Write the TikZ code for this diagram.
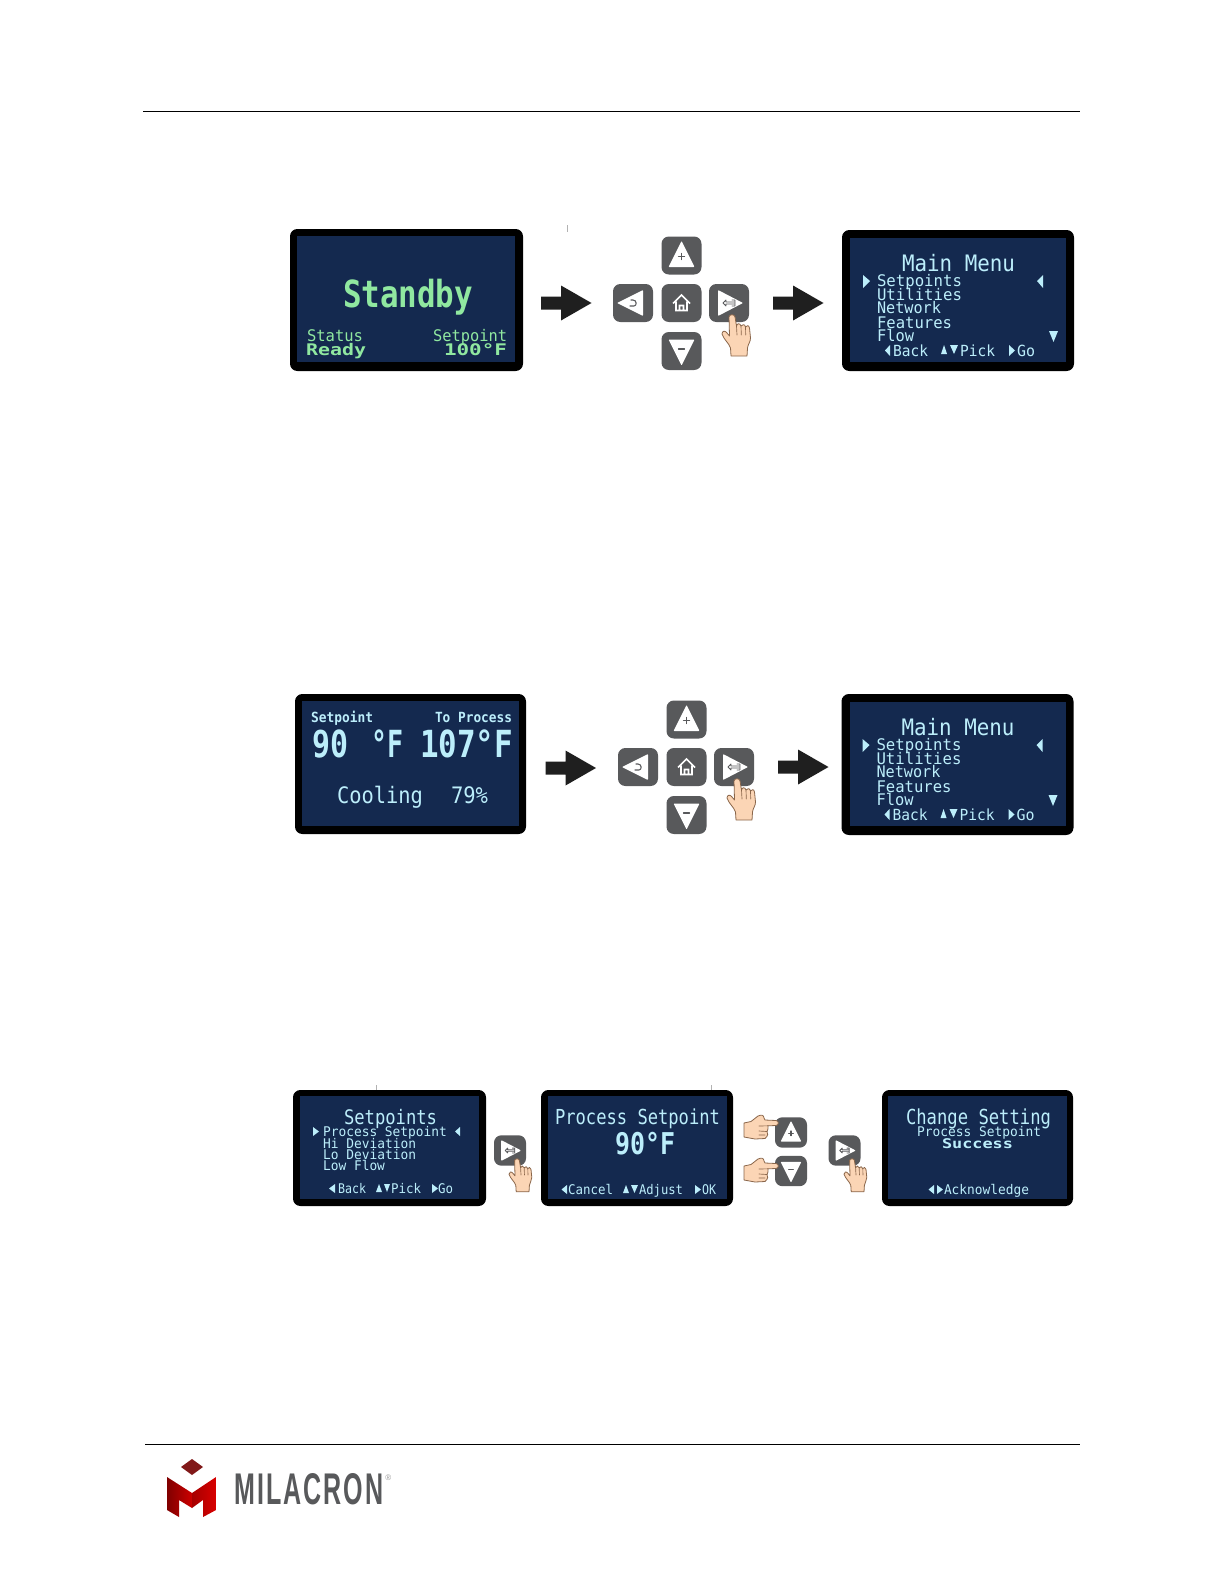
\documentclass[tikz,border=0pt]{standalone}
\usepackage{fontspec}
\usepackage{graphicx}
\setmainfont{Liberation Sans}
\newfontfamily\lcdfont{DejaVu Sans Mono}
\definecolor{lcdblue}{HTML}{BCEEFB}
\definecolor{lcdgreen}{HTML}{90E8A0}
\definecolor{navy}{HTML}{14294F}
\definecolor{keygray}{HTML}{58595B}
\definecolor{skin}{HTML}{FBD5B5}
\definecolor{skinline}{HTML}{8A664A}
\newlength\px \setlength\px{0.75pt}
\newcommand\lcdT[7][lcdblue]{\node[lcdtext,text=#1] (#2) at (#3,#4) {\fontsize{#6}{#6}\selectfont\resizebox{#5\px}{\height}{#7}};}
\newcommand\lcdS[6]{\fill[lcdblue] (#1,#2) -- (#3,#4) -- (#5,#6) -- cycle;}
\newcommand\panel[8]{\fill[black,rounded corners=5.5pt] (#1,#3) rectangle (#2,#4);\fill[navy] (#5,#7) rectangle (#6,#8);}
\newcommand\keyblock{\path[keybody] (-20,-19) rectangle (20,19);}
\tikzset{
 lcdtext/.style={inner sep=0pt,outer sep=0pt,anchor=base west,font=\lcdfont},
 keybody/.style={fill=keygray,rounded corners=5.5pt},
 keymark/.style={fill=white,rounded corners=0.6pt},
 keyicon/.style={draw=keygray,line width=0.8pt,line cap=round,line join=round},
 handshape/.style={fill=skin,draw=skinline,line width=0.6pt,line join=round},
 handcrease/.style={draw=skinline,line width=0.5pt,line cap=round},
 pics/keyup/.style={code={\keyblock\path[keymark] (0,-14.5) -- (13,11.5) -- (-13,11.5) -- cycle;
   \draw[keyicon] (-3,1) -- (3,1) (0,-2) -- (0,4);}},
 pics/keydown/.style={code={\keyblock\path[keymark] (-13,-11.5) -- (13,-11.5) -- (0,14.5) -- cycle;
   \draw[keyicon] (-3,-2) -- (3,-2);}},
 pics/keyleft/.style={code={\keyblock\path[keymark] (-16,0) -- (10,-13) -- (10,13) -- cycle;
   \draw[keyicon] (-3,3) -- (1,3) .. controls (4,3) and (4,-3) .. (0,-3) -- (-2,-3);}},
 pics/keyright/.style={code={\keyblock\path[keymark] (-11,-13) -- (14,0) -- (-11,13) -- cycle;
   \draw[keyicon,line width=0.6pt] (-6,0) -- (-3,-3) -- (-3,-1) -- (5,-1) (-6,0) -- (-3,3) -- (-3,1) -- (5,1) (3,-3) -- (6,-3) -- (6,3) -- (3,3);}},
 pics/keyhome/.style={code={\keyblock
   \draw[white,line width=1.3pt,line join=miter,line cap=butt] (-8.5,0.5) -- (0,-8) -- (8.5,0.5) (-5.5,-1.5) -- (-5.5,7.5) -- (5.5,7.5) -- (5.5,-1.5) (-2,7.5) -- (-2,2.5) -- (2,2.5) -- (2,7.5);}},
 pics/handup/.style={code={
   \path[handshape] (-3,2) .. controls (-3,-1) and (3,-1) .. (3,2) -- (4.5,11) .. controls (5,8) and (8,8) .. (9,11)
     .. controls (10,9) and (13,9) .. (13.5,12) .. controls (14.5,10) and (17,10) .. (17.5,13)
     -- (18.5,23) .. controls (18.5,27) and (16,29) .. (15.5,33) -- (15,41) -- (-1,41) -- (-1.5,33)
     .. controls (-3,28) and (-8,25) .. (-10,19) .. controls (-10,16) and (-7,15) .. (-5,18) -- (-2.5,21) -- cycle;
   \draw[handcrease] (4.5,11) -- (5,20) (9,11) -- (9.3,20) (13.5,12) -- (13.7,20);
 }},
 pics/handright/.style={code={
   \path[handshape] (-1,-2.5) .. controls (2,-2.5) and (2,2.5) .. (-1,2.5) -- (-9,2.8) .. controls (-9,6) and (-9,7) .. (-10,8.5)
     .. controls (-8.5,10) and (-9,13) .. (-12,15.5) -- (-22,16) -- (-33,14) -- (-33,0) -- (-26,-1.5) -- (-19,-7)
     .. controls (-16,-8.5) and (-13,-8) .. (-13,-5) -- (-12,-3) -- cycle;
   \draw[handcrease] (-9,2.8) -- (-18,3) (-10,8.5) -- (-18,8) (-12,12) -- (-18,12);
 }},
 pics/blockarrow/.style={code={
   \fill[black!88] (0,-6.5) -- (20,-6.5) -- (20,-17.5) -- (50.5,0) -- (20,17.5) -- (20,6.5) -- (0,6.5) -- cycle;}},
 pics/mainmenu/.style={code={
   \panel{842}{1074}{230}{371}{850}{1066}{238}{362}
   \lcdT{title}{902}{271}{113}{17}{Main Menu}
   \lcdT{a}{877}{286}{85}{12}{Setpoints}
   \lcdT{b}{877}{300}{85}{12}{Utilities}
   \lcdT{c}{877}{313}{64}{12}{Network}
   \lcdT{d}{877}{328}{75}{12}{Features}
   \lcdT{e}{877}{341}{37}{12}{Flow}
   \lcdT{f}{893}{356}{35}{11.5}{Back}
   \lcdT{g}{960}{356}{35}{11.5}{Pick}
   \lcdT{h}{1017}{356}{18}{11.5}{Go}
   \lcdS{863}{275}{870}{281}{863}{288}
   \lcdS{1043}{275}{1037}{281}{1043}{288}
   \lcdS{1049}{331}{1058}{331}{1053.5}{342}
   \lcdS{890}{345}{885}{350.5}{890}{356}
   \lcdS{941}{354}{947}{354}{944}{345}
   \lcdS{950}{345}{958}{345}{954}{354}
   \lcdS{1009}{345}{1015}{350.5}{1009}{356}
 }},
 pics/keypad/.style={code={
   \pic at (681.5,255.5) {keyup};
   \pic at (633,303) {keyleft};
   \pic at (681.5,303) {keyhome};
   \pic at (729,303) {keyright};
   \pic at (681.5,351) {keydown};
   \pic at (732,315) {handup};
 }},
}
\begin{document}
\begin{tikzpicture}[x=0.75pt,y=-0.75pt]
\useasboundingbox (0,0) rectangle (1224,1584);
\fill[white] (0,0) rectangle (1224,1584);
% rules
\draw[black,line width=0.75pt] (143,111.5) -- (1080,111.5);
\draw[black,line width=0.75pt] (145,1444.5) -- (1080,1444.5);
% faint ticks
\draw[black!30,line width=0.5pt] (567,225) -- (567,232);
\draw[black!30,line width=0.5pt] (376,1085) -- (376,1090);
\draw[black!30,line width=0.5pt] (711,1085) -- (711,1090);

% ---- row 1
\panel{290}{523}{229}{371}{297}{515}{236}{362}
\lcdT[lcdgreen]{standby}{343}{307}{130}{28}{\bfseries Standby}
\lcdT[lcdgreen]{status}{307}{341}{56}{12}{Status}
\lcdT[lcdgreen]{ready}{306}{355}{60}{12}{\bfseries Ready}
\lcdT[lcdgreen]{setp}{433}{341}{74}{12}{Setpoint}
\lcdT[lcdgreen]{hundred}{444}{355}{63}{12}{\bfseries 100°F}
\pic at (541,303) {blockarrow};
\pic at (0,0) {keypad};
\pic at (773,303) {blockarrow};
\pic (mma) at (0,0) {mainmenu};

% ---- row 2
\panel{295}{526}{694}{834}{302}{519}{701}{826}
\lcdT{sp}{311}{722}{62}{10.5}{\bfseries Setpoint}
\lcdT{toproc}{435}{722}{77}{10.5}{\bfseries To Process}
\lcdT{ninety}{312}{757}{36}{28}{\bfseries 90}
\lcdT{degf}{371}{757}{32}{28}{\bfseries °F}
\lcdT{hot}{420}{757}{93}{28}{\bfseries 107°F}
\lcdT{cool}{337}{803}{86}{17}{Cooling}
\lcdT{pct}{451}{803}{37}{17}{79\%}
\pic at (545.5,768) {blockarrow};
\pic at (5,464) {keypad};
\pic at (778,767) {blockarrow};
\pic (mmb) at (-0.5,464) {mainmenu};

% ---- row 3: screen A
\panel{293}{486}{1090}{1206}{300}{479}{1096}{1199}
\lcdT{sa}{344}{1124}{93}{15}{Setpoints}
\lcdT{sb}{323}{1136}{124}{10}{Process Setpoint}
\lcdT{sc}{323}{1148}{93}{10}{Hi Deviation}
\lcdT{sd}{323}{1159}{93}{10}{Lo Deviation}
\lcdT{se}{323}{1170}{62}{10}{Low Flow}
\lcdT{sf}{338}{1193}{28}{10}{Back}
\lcdT{sg}{391}{1193}{30}{10}{Pick}
\lcdT{sh}{438}{1193}{15}{10}{Go}
\lcdS{313}{1127}{319}{1131.5}{313}{1136}
\lcdS{460}{1127}{455}{1131.5}{460}{1136}
\lcdS{335}{1184}{329}{1188.5}{335}{1193}
\lcdS{376}{1192}{382}{1192}{379}{1184}
\lcdS{384}{1184}{390}{1184}{387}{1192}
\lcdS{432}{1184}{438}{1188.5}{432}{1193}
% enter key
\pic[scale=0.8] at (510,1150.5) {keyright};
\pic[scale=0.8] at (517,1159) {handup};
% screen B
\panel{541}{733}{1090}{1206}{548}{727}{1096}{1199}
\lcdT{pa}{555}{1124}{165}{15.5}{Process Setpoint}
\lcdT{pb}{615}{1154}{60}{22.5}{\bfseries 90°F}
\lcdT{pc}{568}{1194}{45}{10}{Cancel}
\lcdT{pd}{639}{1194}{44}{10}{Adjust}
\lcdT{pe}{702}{1194}{14}{10}{OK}
\lcdS{567}{1185}{561.5}{1189.5}{567}{1194}
\lcdS{623}{1193}{629}{1193}{626}{1185}
\lcdS{631}{1185}{638}{1185}{634.5}{1193}
\lcdS{695}{1185}{701}{1189.5}{695}{1194}
% adjust keys
\pic[scale=0.8] at (791,1132.5) {keyup};
\pic[scale=0.8] at (791,1171) {keydown};
\pic at (777,1123) {handright};
\pic at (777,1166) {handright};
\pic[scale=0.8] at (844.5,1150.5) {keyright};
\pic[scale=0.8] at (852,1159) {handup};
% screen C
\panel{882}{1073}{1090}{1206}{888}{1067}{1096}{1199}
\lcdT{ca}{906}{1124}{145}{15.5}{Change Setting}
\lcdT{cb}{917}{1136}{124}{10}{Process Setpoint}
\lcdT{cc}{942}{1148}{71}{10}{\bfseries Success}
\lcdT{cd}{944}{1194}{85}{10}{Acknowledge}
\lcdS{934}{1185}{928.5}{1189.5}{934}{1194}
\lcdS{937}{1185}{943}{1189.5}{937}{1194}

% ---- logo
\fill[red!45!black!90!white] (192,1459) -- (203,1467) -- (192,1475) -- (181,1467) -- cycle;
\shade[left color=red!50!black,right color=red!80!black] (167,1477) -- (192,1493) -- (192,1508) -- (179,1500) -- (179,1517) -- (167,1510) -- cycle;
\shade[left color=red!65!black,right color=red!85!black] (216,1477) -- (192,1493) -- (192,1508) -- (203,1500) -- (203,1517) -- (216,1510) -- cycle;
\node[inner sep=0pt,anchor=base west,text=keygray] (brand) at (234,1504) {\resizebox{149\px}{31\px}{\bfseries\addfontfeature{LetterSpace=8}MILACRON}};
\node[inner sep=0pt,anchor=base west,text=black!40] (reg) at (385,1480) {\fontsize{6}{6}\selectfont ®};
\end{tikzpicture}
\end{document}
